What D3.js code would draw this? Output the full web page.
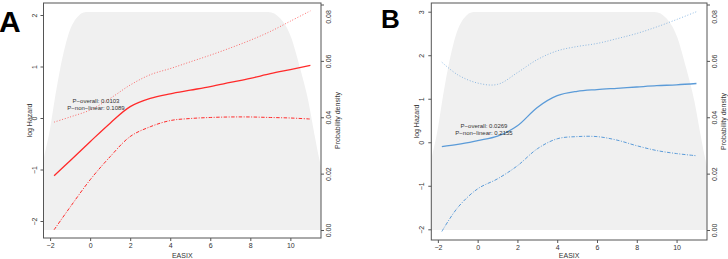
<!DOCTYPE html>
<html>
<head>
<meta charset="utf-8">
<script src="https://cdnjs.cloudflare.com/ajax/libs/d3/7.8.5/d3.min.js"></script>
<style>
  body { margin: 0; background: #fff; }
  svg { display: block; font-family: "Liberation Sans", Arial, sans-serif; }
</style>
</head>
<body>
<div id="chart"></div>
<script>
"use strict"

// shared x grid (EASIX) for the fitted curves
const easixGrid = [-1.8, -1, 0, 1, 2, 3, 4, 5, 6, 7, 8, 9, 10, 11];
const easixTicks = [-2, 0, 2, 4, 6, 8, 10];
const densityTicks = [0, 0.02, 0.04, 0.06, 0.08];

// density of EASIX (grey background)
const densX = [-2.7, -2.3, -2.0, -1.8, -1.5, -1.1, -0.7, -0.2, 8.9, 9.5, 10.0, 10.5, 10.9, 11.2, 11.45, 11.8];
const densY = [0.014, 0.026, 0.036, 0.045, 0.057, 0.069, 0.075, 0.0773, 0.0773, 0.075, 0.069, 0.057, 0.0456, 0.034, 0.025, 0.016];

// panel A
const hazardTicksA = [-2, -1, 0, 1, 2];
const fitA   = [-1.12, -0.83, -0.46, -0.10, 0.22, 0.38, 0.47, 0.54, 0.61, 0.69, 0.77, 0.86, 0.94, 1.02];
const upperA = [-0.08, 0.02, 0.155, 0.38, 0.64, 0.84, 0.96, 1.09, 1.22, 1.36, 1.51, 1.68, 1.88, 2.08];
const lowerA = [-2.17, -1.73, -1.20, -0.75, -0.36, -0.17, -0.05, -0.01, 0.01, 0.02, 0.02, 0.01, 0.0, -0.02];
const pTextA = ["P\u2212overall: 0.0103", "P\u2212non\u2212linear: 0.1089"];

// panel B
const hazardTicksB = [-2, -1, 0, 1, 2, 3];
const fitB   = [-0.10, -0.05, 0.04, 0.14, 0.38, 0.80, 1.07, 1.17, 1.21, 1.24, 1.27, 1.30, 1.32, 1.35];
const upperB = [1.84, 1.55, 1.36, 1.33, 1.60, 1.90, 2.10, 2.20, 2.27, 2.38, 2.50, 2.65, 2.82, 3.0];
const lowerB = [-2.05, -1.50, -1.07, -0.84, -0.54, -0.15, 0.08, 0.13, 0.13, 0.05, -0.08, -0.19, -0.26, -0.31];
const pTextB = ["P\u2212overall: 0.0269", "P\u2212non\u2212linear: 0.2155"];

let svg = d3.select("#chart").append("svg")
    .attr("width", 728)
    .attr("height", 259)

function drawPanel(cfg){
    let g = svg.append("g")

    let x = d3.scaleLinear().domain([-2.33, 11.53]).range([cfg.left, cfg.right])
    let y = d3.scaleLinear().domain(cfg.hazDomain).range(cfg.hazRange)
    let yd = d3.scaleLinear().domain([0, 0.08]).range([230, 4.5])

    // clip to the plot box
    g.append("clipPath").attr("id", "clip" + cfg.id)
        .append("rect")
        .attr("x", cfg.left).attr("y", cfg.top)
        .attr("width", cfg.right - cfg.left).attr("height", cfg.bottom - cfg.top)

    let inner = g.append("g").attr("clip-path", "url(#clip" + cfg.id + ")")

    let area = d3.area()
        .x((d, i) => x(densX[i]))
        .y0(yd(0))
        .y1(d => yd(d))
        .curve(d3.curveMonotoneX)
    inner.append("path")
        .datum(densY)
        .attr("d", area)
        .style("fill", "#f0f0f0")

    let line = d3.line()
        .x((d, i) => x(easixGrid[i]))
        .y(d => y(d))
        .curve(d3.curveCatmullRom.alpha(0.5))

    inner.append("path").datum(cfg.upper).attr("d", line)
        .style("fill", "none").style("stroke", cfg.color)
        .style("stroke-width", 0.9).style("stroke-dasharray", "1,1.8")
        .style("opacity", 0.75)
    inner.append("path").datum(cfg.lower).attr("d", line)
        .style("fill", "none").style("stroke", cfg.color)
        .style("stroke-width", 1).style("stroke-dasharray", "3.5,1.5,1,1.5")
    inner.append("path").datum(cfg.fit).attr("d", line)
        .style("fill", "none").style("stroke", cfg.color)
        .style("stroke-width", 1.3)

    // box
    g.append("rect")
        .attr("x", cfg.left).attr("y", cfg.top)
        .attr("width", cfg.right - cfg.left).attr("height", cfg.bottom - cfg.top)
        .style("fill", "none").style("stroke", "#555").style("stroke-width", 1)

    // bottom axis
    let xAxis = d3.axisBottom(x).tickValues(easixTicks).tickSize(3).tickPadding(2)
    let gx = g.append("g").attr("transform", "translate(0," + cfg.bottom + ")").call(xAxis)
    gx.select(".domain").remove()
    gx.selectAll("line").style("stroke", "#555")
    gx.selectAll("text").style("font-size", "7px").style("fill", "#333")
        .text(d => d < 0 ? "\u2212" + Math.abs(d) : d)

    // left axis (log hazard), rotated labels
    let yAxis = d3.axisLeft(y).tickValues(cfg.hazTicks).tickSize(3).tickPadding(0)
    let gy = g.append("g").attr("transform", "translate(" + cfg.left + ",0)").call(yAxis)
    gy.select(".domain").remove()
    gy.selectAll("line").style("stroke", "#555")
    gy.selectAll("text")
        .attr("x", null).attr("dy", null)
        .attr("transform", "translate(-7,0) rotate(-90)")
        .attr("text-anchor", "middle")
        .style("font-size", "7px").style("fill", "#333")
        .text(d => d < 0 ? "\u2212" + Math.abs(d) : d)

    // right axis (density)
    let dAxis = d3.axisRight(yd).tickValues(densityTicks).tickSize(3).tickFormat(d3.format(".2f"))
    let gd = g.append("g").attr("transform", "translate(" + cfg.right + ",0)").call(dAxis)
    gd.select(".domain").remove()
    gd.selectAll("line").style("stroke", "#555")
    gd.selectAll("text")
        .attr("x", null).attr("dy", null)
        .attr("transform", d => "translate(9.5," + (d === 0.08 ? 12 : 0) + ") rotate(-90)")
        .attr("text-anchor", "middle")
        .style("font-size", "7px").style("fill", "#333")

    // titles
    let mid = (cfg.top + cfg.bottom) / 2
    g.append("text")
        .attr("transform", "translate(" + (cfg.left - 12) + "," + mid + ") rotate(-90)")
        .attr("text-anchor", "middle")
        .style("font-size", "7px").style("fill", "#333")
        .text("log Hazard")
    g.append("text")
        .attr("transform", "translate(" + (cfg.right + 19) + "," + mid + ") rotate(-90)")
        .attr("text-anchor", "middle")
        .style("font-size", "7px").style("fill", "#333")
        .text("Probability density")
    g.append("text")
        .attr("x", (cfg.left + cfg.right) / 2).attr("y", 258)
        .attr("text-anchor", "middle")
        .style("font-size", "7px").style("fill", "#333")
        .text("EASIX")

    // p-values
    for(let i = 0; i < cfg.pText.length; i++){
        g.append("text")
            .attr("x", cfg.pX).attr("y", cfg.pY + 7 * i)
            .attr("text-anchor", "middle")
            .style("font-size", "6px").style("fill", "#333")
            .text(cfg.pText[i])
    }

    // panel letter
    g.append("text")
        .attr("x", cfg.letterX).attr("y", cfg.letterY)
        .style("font-size", cfg.letterSize + "px").style("font-weight", "bold")
        .style("fill", "#000")
        .text(cfg.letter)
}

drawPanel({
    id: "A", letter: "A", letterX: -1, letterY: 32, letterSize: 30,
    left: 43.5, right: 321, top: 3, bottom: 238,
    hazDomain: [-2, 2], hazRange: [221, 15], hazTicks: hazardTicksA,
    fit: fitA, upper: upperA, lower: lowerA,
    color: "#ff2a2a", pText: pTextA, pX: 96, pY: 103
})

drawPanel({
    id: "B", letter: "B", letterX: 381, letterY: 28, letterSize: 26,
    left: 431.3, right: 707, top: 3, bottom: 240,
    hazDomain: [-2, 3], hazRange: [229.3, 11.7], hazTicks: hazardTicksB,
    fit: fitB, upper: upperB, lower: lowerB,
    color: "#5b9bd8", pText: pTextB, pX: 484, pY: 128
})
</script>
</body>
</html>
